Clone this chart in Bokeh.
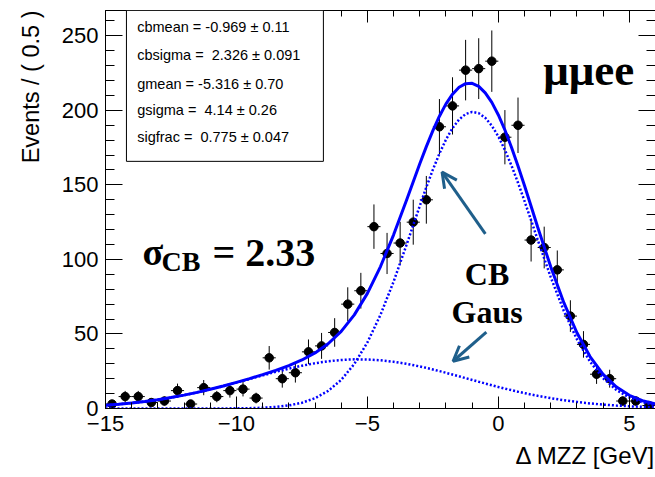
from bokeh.plotting import figure
from bokeh.models import (Range1d, SingleIntervalTicker, LinearAxis, ColumnDataSource,
                          Label, BoxAnnotation, Arrow, OpenHead, CustomJSTickFormatter, Title)
from bokeh.embed import file_html
from bokeh.resources import INLINE

# ---------------- data ----------------
bin_centers = [-14.75, -14.25, -13.75, -13.25, -12.75, -12.25, -11.75, -11.25, -10.75, -10.25,
               -9.75, -9.25, -8.75, -8.25, -7.75, -7.25, -6.75, -6.25, -5.75, -5.25,
               -4.75, -4.25, -3.75, -3.25, -2.75, -2.25, -1.75, -1.25, -0.75, -0.25,
               0.25, 0.75, 1.25, 1.75, 2.25, 2.75, 3.25, 3.75, 4.25, 4.75, 5.25, 5.75]
events = [3, 8, 8, 4, 5, 12, 3, 14, 8, 12,
          13, 7, 34, 20, 24, 38, 42, 51, 70, 79,
          122, 104, 111, 125, 140, 189, 203, 227, 228, 233,
          182, 190, 113, 108, 93, 62, 43, 23, 20, 5, 5, 2]
errors = [2.3, 3.8, 3.8, 2.7, 3.0, 4.7, 2.3, 5.1, 3.8, 4.7,
          4.9, 3.6, 7.9, 6.0, 6.6, 8.3, 8.7, 9.6, 11.3, 12.0,
          14.9, 13.8, 14.2, 15.1, 16.0, 18.6, 19.2, 20.3, 20.4, 20.6,
          18.2, 18.6, 14.4, 14.0, 13.0, 10.6, 8.9, 6.5, 6.0, 3.0, 3.0, 1.9]
bin_half_width = 0.25

curve_x = [-15, -14.5, -14, -13.5, -13, -12.5, -12, -11.5, -11, -10.5, -10, -9.5, -9, -8.5,
           -8, -7.5, -7, -6.5, -6, -5.5, -5, -4.5, -4, -3.5, -3, -2.75, -2.5, -2.25, -2,
           -1.75, -1.5, -1.25, -1, -0.75, -0.5, -0.25, 0, 0.25, 0.5, 0.75, 1, 1.25, 1.5,
           2, 2.5, 3, 3.5, 4, 4.5, 5, 5.5, 6]
cb_curve = [0, 0, 0, 0, 0, 0, 0, 0.01, 0.02, 0.05, 0.11, 0.24, 0.51, 1.05,
            2.06, 3.86, 6.91, 11.78, 19.19, 29.85, 44.33, 62.86, 85.13, 110.09, 135.92, 148.43,
            160.25, 171.00, 180.39, 188.09, 193.89, 197.55, 198.98, 198.12, 195.00, 189.72,
            182.46, 173.47, 163.02, 151.44, 139.08, 126.25, 113.29,
            88.12, 65.45, 46.41, 31.42, 20.32, 12.54, 7.40, 4.16, 2.24]
gaus_curve = [2.14, 2.82, 3.66, 4.68, 5.90, 7.32, 8.96, 10.82, 12.86, 15.07, 17.40, 19.80, 22.21, 24.55,
              26.74, 28.71, 30.38, 31.68, 32.55, 32.97, 32.90, 32.37, 31.37, 29.97, 28.22, 27.23,
              26.19, 25.09, 23.94, 22.77, 21.58, 20.37, 19.17, 17.96, 16.78, 15.61,
              14.47, 13.37, 12.30, 11.28, 10.31, 9.38, 8.51,
              6.93, 5.55, 4.39, 3.42, 2.62, 1.99, 1.48, 1.09, 0.79]
total_curve = [2.14, 2.82, 3.66, 4.68, 5.90, 7.32, 8.96, 10.83, 12.88, 15.12, 17.51, 20.04, 22.72, 25.60,
               28.80, 32.57, 37.29, 43.46, 51.74, 62.82, 77.23, 95.23, 116.50, 140.06, 164.14, 175.66,
               186.44, 196.09, 204.33, 210.86, 215.47, 217.92, 218.15, 216.08, 211.78, 205.33,
               196.93, 186.84, 175.32, 162.72, 149.39, 135.63, 121.80,
               95.05, 71.00, 50.80, 34.84, 22.94, 14.53, 8.88, 5.25, 3.03]

NB = "\u00a0"
param_lines = ["cbmean = -0.969 ± 0.11",
               "cbsigma =" + NB + " 2.326 ± 0.091",
               "gmean = -5.316 ± 0.70",
               "gsigma =" + NB + " 4.14 ± 0.26",
               "sigfrac =" + NB + " 0.775 ± 0.047"]
x_title = "Δ MZZ [GeV]"
y_title = "Events / ( 0.5 )"

# ---------------- figure ----------------
p = figure(width=655, height=477, x_range=Range1d(-15, 6), y_range=Range1d(0, 267),
           output_backend="svg", toolbar_location=None,
           min_border_left=105, min_border_right=0, min_border_top=10, min_border_bottom=69)
p.outline_line_color = None
p.xgrid.visible = False
p.ygrid.visible = False
p.background_fill_color = "white"
p.border_fill_color = "white"

xt = SingleIntervalTicker(interval=5, num_minor_ticks=5)
yt = SingleIntervalTicker(interval=50, num_minor_ticks=5)


def style(ax, tin, minin, labels=True):
    ax.major_tick_in = tin
    ax.major_tick_out = 0
    ax.minor_tick_in = minin
    ax.minor_tick_out = 0
    ax.axis_line_color = "black"
    ax.major_tick_line_color = "black"
    ax.minor_tick_line_color = "black"
    ax.major_label_text_font = "Liberation Sans"
    ax.major_label_text_color = "black"
    if labels:
        ax.major_label_text_font_size = "22px"
    else:
        ax.formatter = CustomJSTickFormatter(code="return '';")
        ax.major_label_text_font_size = "1px"
        ax.major_label_standoff = 0


xa = p.xaxis[0]
xa.ticker = xt
style(xa, 12, 6)
xa.major_label_standoff = 7
xa.major_label_text_line_height = 1.0

ya = p.yaxis[0]
ya.ticker = yt
style(ya, 17, 9)
ya.major_label_standoff = 7

top = LinearAxis(ticker=xt)
style(top, 12, 6, labels=False)
p.add_layout(top, "above")

right = LinearAxis(ticker=yt)
style(right, 17, 9, labels=False)
right.axis_line_color = None
p.add_layout(right, "right")

# axis titles, ROOT style: right-aligned at the axis ends
p.add_layout(Title(text=x_title, align="right", text_font="Liberation Sans",
                   text_font_size="24px", text_font_style="normal", text_color="black",
                   text_line_height=1.0, standoff=13), "below")
p.add_layout(Title(text=y_title, align="right", text_font="Liberation Sans",
                   text_font_size="23.5px", text_font_style="normal", text_color="black",
                   text_line_height=1.0, standoff=30), "left")

# ---------------- data points ----------------
src = ColumnDataSource(dict(
    x=bin_centers, y=events,
    lo=[v - e for v, e in zip(events, errors)],
    hi=[v + e for v, e in zip(events, errors)],
    xl=[c - bin_half_width for c in bin_centers],
    xr=[c + bin_half_width for c in bin_centers],
))
p.segment(x0="x", y0="lo", x1="x", y1="hi", source=src, line_color="black", line_width=1)
p.segment(x0="xl", y0="y", x1="xr", y1="y", source=src, line_color="black", line_width=1)
p.scatter(x="x", y="y", source=src, size=8.5, fill_color="black", line_color="black")

# ---------------- fit curves ----------------
p.line(curve_x, cb_curve, line_color="#0000ff", line_width=2.5, line_dash="2 2")
p.line(curve_x, gaus_curve, line_color="#0000ff", line_width=2.5, line_dash="2 2")
p.line(curve_x, total_curve, line_color="#0000ff", line_width=3)

# ---------------- parameter box ----------------
p.add_layout(BoxAnnotation(left=-14.2, right=-6.68, top=267, bottom=165.8,
                           fill_color="white", fill_alpha=1.0,
                           line_color="black", line_width=1, line_alpha=1.0))
row_y = [255.9, 236.9, 217.9, 200.0, 182.1]
for txt, yy in zip(param_lines, row_y):
    p.add_layout(Label(x=-13.79, y=yy, text=txt, text_font="Liberation Sans",
                       text_font_size="14.5px", text_baseline="middle", text_color="black"))

# ---------------- annotations ----------------
serif = "Liberation Serif"
p.add_layout(Label(x=1.718, y=226.8, text="μμee", text_font=serif, text_font_style="bold",
                   text_font_size="45px", text_baseline="alphabetic", text_color="black"))
p.add_layout(Label(x=-13.588, y=104.9, text="σ", text_font=serif, text_font_style="bold",
                   text_font_size="38px", text_baseline="alphabetic", text_color="black"))
p.add_layout(Label(x=-12.863, y=98.9, text="CB", text_font=serif, text_font_style="bold",
                   text_font_size="28px", text_baseline="alphabetic", text_color="black"))
p.add_layout(Label(x=-10.916, y=104.9, text="= 2.33", text_font=serif, text_font_style="bold",
                   text_font_size="40px", text_baseline="alphabetic", text_color="black"))
p.add_layout(Label(x=-0.431, y=90.4, text="CB", text_font=serif, text_font_style="bold",
                   text_font_size="32px", text_baseline="alphabetic", text_align="center",
                   text_color="black"))
p.add_layout(Label(x=-0.431, y=64.6, text="Gaus", text_font=serif, text_font_style="bold",
                   text_font_size="32px", text_baseline="alphabetic", text_align="center",
                   text_color="black"))

arrow_color = "#1f5f8b"
p.add_layout(Arrow(end=OpenHead(size=15, line_width=3, line_color=arrow_color),
                   x_start=-0.496, y_start=117.2, x_end=-2.149, y_end=158.6,
                   line_width=3, line_color=arrow_color))
p.add_layout(Arrow(end=OpenHead(size=15, line_width=3, line_color=arrow_color),
                   x_start=-0.458, y_start=51.2, x_end=-1.729, y_end=31.7,
                   line_width=3, line_color=arrow_color))

open("out.html", "w").write(file_html(p, INLINE))
